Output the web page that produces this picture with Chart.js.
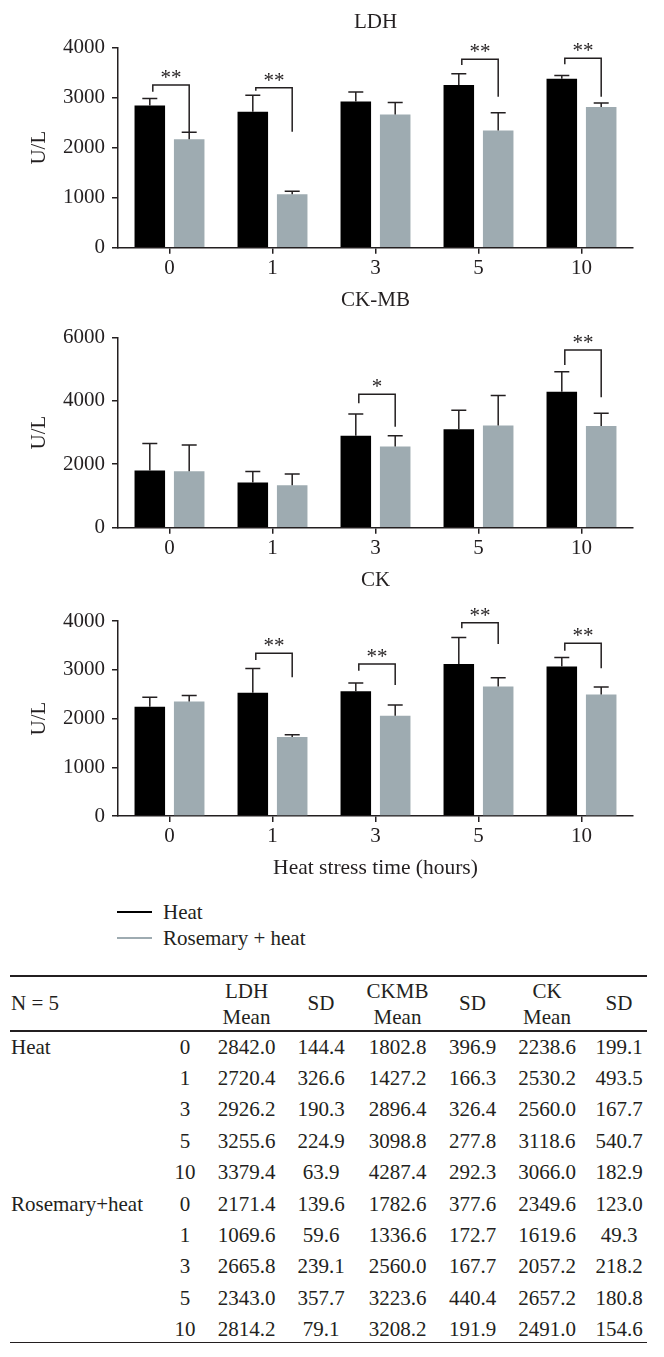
<!DOCTYPE html>
<html>
<head>
<meta charset="utf-8">
<script src="https://cdn.jsdelivr.net/npm/chart.js@4.4.0/dist/chart.umd.min.js"></script>
<style>
  html, body { margin: 0; padding: 0; background: #fff; }
  body { width: 664px; height: 1357px; position: relative; overflow: hidden;
         font-family: "Liberation Serif", "DejaVu Serif", serif; color: #231f20; }
  canvas { position: absolute; left: 0; }
  .t { position: absolute; font-size: 21px; line-height: 24px; white-space: nowrap; }
  .c { text-align: center; width: 120px; }
  .rule { position: absolute; left: 10px; width: 637px; background: #231f20; }
  .key { position: absolute; left: 117px; height: 24px; font-size: 21px; line-height: 24px; }
  .key span { position: absolute; left: 0; top: 11px; width: 35px; height: 2px; }
  .key b { position: absolute; left: 46px; top: 0; font-weight: normal; white-space: nowrap; }
</style>
</head>
<body>
<canvas id="ldh" width="664" height="280" style="top:0px"></canvas>
<canvas id="ckmb" width="664" height="280" style="top:280px"></canvas>
<canvas id="ck" width="664" height="340" style="top:560px"></canvas>
<div id="legend"></div>
<div id="table"></div>
<script>
const hours = ["0", "1", "3", "5", "10"];
const seriesNames = ["Heat", "Rosemary + heat"];
const tableGroups = ["Heat", "Rosemary+heat"];

const ldhMeanHeat = [2842.0, 2720.4, 2926.2, 3255.6, 3379.4];
const ldhSdHeat = [144.4, 326.6, 190.3, 224.9, 63.9];
const ckmbMeanHeat = [1802.8, 1427.2, 2896.4, 3098.8, 4287.4];
const ckmbSdHeat = [396.9, 166.3, 326.4, 277.8, 292.3];
const ckMeanHeat = [2238.6, 2530.2, 2560.0, 3118.6, 3066.0];
const ckSdHeat = [199.1, 493.5, 167.7, 540.7, 182.9];

const ldhMeanRos = [2171.4, 1069.6, 2665.8, 2343.0, 2814.2];
const ldhSdRos = [139.6, 59.6, 239.1, 357.7, 79.1];
const ckmbMeanRos = [1782.6, 1336.6, 2560.0, 3223.6, 3208.2];
const ckmbSdRos = [377.6, 172.7, 167.7, 440.4, 191.9];
const ckMeanRos = [2349.6, 1619.6, 2057.2, 2657.2, 2491.0];
const ckSdRos = [123.0, 49.3, 218.2, 180.8, 154.6];

// the CK-MB whiskers in the figure are longer than the tabulated SD
const ckmbWhiskerHeat = [850, 340, 690, 600, 630];
const ckmbWhiskerRos = [820, 355, 340, 945, 395];

// brackets: [hour index, bracket level, heat leg end, rosemary leg end, label] in U/L
const ldhSig = [[0, 3254, 3120, 2314, "**"], [1, 3200, 3140, 2320, "**"],
                [3, 3768, 3654, 3020, "**"], [4, 3788, 3668, 3020, "**"]];
const ckmbSig = [[2, 4205, 3921, 3184, "*"], [4, 5601, 5128, 4110, "**"]];
const ckSig = [[1, 3337, 3200, 2845, "**"], [2, 3118, 2980, 2687, "**"],
               [3, 3965, 3850, 3528, "**"], [4, 3542, 3390, 3029, "**"]];

const ink = "#231f20";
const heatColor = "#000000";
const rosColor = "#9eabb1";
const serif = "'Liberation Serif', 'DejaVu Serif', serif";

const extras = {
  id: "extras",
  afterDatasetsDraw(chart, args, opts) {
    const { ctx, chartArea } = chart;
    const y = chart.scales.y;
    ctx.save();
    ctx.strokeStyle = ink;
    ctx.lineWidth = 1.5;
    chart.data.datasets.forEach((ds, di) => {
      const meta = chart.getDatasetMeta(di);
      meta.data.forEach((bar, i) => {
        const top = y.getPixelForValue(ds.data[i] + ds.err[i]);
        ctx.beginPath();
        ctx.moveTo(bar.x, bar.y);
        ctx.lineTo(bar.x, top);
        ctx.moveTo(bar.x - 7.5, top);
        ctx.lineTo(bar.x + 7.5, top);
        ctx.stroke();
      });
    });

    const heatBars = chart.getDatasetMeta(0).data;
    const rosBars = chart.getDatasetMeta(1).data;
    ctx.fillStyle = ink;
    ctx.font = "21px " + serif;
    ctx.textAlign = "center";
    ctx.textBaseline = "alphabetic";
    (opts.sig || []).forEach(([i, level, leftEnd, rightEnd, label]) => {
      const lx = heatBars[i].x + 3;
      const rx = rosBars[i].x;
      const py = y.getPixelForValue(level);
      ctx.beginPath();
      ctx.moveTo(lx, y.getPixelForValue(leftEnd));
      ctx.lineTo(lx, py);
      ctx.lineTo(rx, py);
      ctx.lineTo(rx, y.getPixelForValue(rightEnd));
      ctx.stroke();
      ctx.fillText(label, (lx + rx) / 2, py - 1);
    });

    ctx.textBaseline = "middle";
    ctx.fillText(opts.title, (chartArea.left + chartArea.right) / 2, opts.titleY);
    ctx.restore();
  }
};

function panel(id, cfg) {
  const tickFont = { family: serif, size: 21 };
  const x = {
    ticks: { padding: 2, color: ink, font: tickFont },
    grid: { offset: false, drawOnChartArea: false, tickLength: 6, color: ink, lineWidth: 1.5 },
    border: { color: ink, width: 1.5 },
    afterFit: (s) => { s.height = cfg.xHeight; }
  };
  if (cfg.xTitle) {
    x.title = { display: true, text: cfg.xTitle, color: ink,
                font: { family: serif, size: 21.5 }, padding: { top: 0, bottom: 19 } };
  }
  return new Chart(document.getElementById(id), {
    type: "bar",
    data: {
      labels: hours,
      datasets: [
        { label: seriesNames[0], data: cfg.heat, err: cfg.heatErr, backgroundColor: heatColor,
          borderWidth: 0, categoryPercentage: 0.765, barPercentage: 0.775 },
        { label: seriesNames[1], data: cfg.ros, err: cfg.rosErr, backgroundColor: rosColor,
          borderWidth: 0, categoryPercentage: 0.765, barPercentage: 0.775 }
      ]
    },
    options: {
      responsive: false,
      animation: false,
      layout: { autoPadding: false, padding: { left: 0, right: 31, top: cfg.top, bottom: 0 } },
      plugins: {
        legend: { display: false },
        tooltip: { enabled: false },
        extras: { sig: cfg.sig, title: cfg.title, titleY: cfg.titleY }
      },
      scales: {
        x,
        y: {
          min: 0,
          max: cfg.max,
          ticks: { stepSize: cfg.step, padding: 7, color: ink, font: tickFont,
                   callback: (v) => String(v) },
          grid: { drawOnChartArea: false, tickLength: 6, color: ink, lineWidth: 1.5 },
          border: { color: ink, width: 1.5 },
          title: { display: true, text: "U/L", color: ink, font: { family: serif, size: 21 },
                   padding: { top: 27, bottom: 0 } },
          afterFit: (s) => { s.width = 118; }
        }
      }
    },
    plugins: [extras]
  });
}

panel("ldh", { title: "LDH", titleY: 22, top: 47.7, xHeight: 32.3, max: 4000, step: 1000,
  heat: ldhMeanHeat, heatErr: ldhSdHeat, ros: ldhMeanRos, rosErr: ldhSdRos, sig: ldhSig });
panel("ckmb", { title: "CK-MB", titleY: 20.7, top: 57.3, xHeight: 32.3, max: 6000, step: 2000,
  heat: ckmbMeanHeat, heatErr: ckmbWhiskerHeat, ros: ckmbMeanRos, rosErr: ckmbWhiskerRos, sig: ckmbSig });
panel("ck", { title: "CK", titleY: 20.7, top: 61, xHeight: 84, max: 4000, step: 1000,
  heat: ckMeanHeat, heatErr: ckSdHeat, ros: ckMeanRos, rosErr: ckSdRos, sig: ckSig,
  xTitle: "Heat stress time (hours)" });

// legend
const legend = document.getElementById("legend");
[heatColor, rosColor].forEach((color, k) => {
  const row = document.createElement("div");
  row.className = "key";
  row.style.top = (900 + k * 26) + "px";
  row.innerHTML = `<span style="background:${color}"></span><b>${seriesNames[k]}</b>`;
  legend.appendChild(row);
});

// table
const table = document.getElementById("table");
function cell(text, cx, cy, left) {
  const d = document.createElement("div");
  d.className = left ? "t" : "t c";
  d.textContent = text;
  d.style.left = (left ? cx : cx - 60) + "px";
  d.style.top = (cy - 12) + "px";
  table.appendChild(d);
}
function rule(y, h) {
  const d = document.createElement("div");
  d.className = "rule";
  d.style.top = y + "px";
  d.style.height = h + "px";
  table.appendChild(d);
}
const colX = [185, 246.5, 321, 397.5, 472.5, 547, 619];
rule(975, 2);
rule(1030, 2);
rule(1342, 1);
cell("N = 5", 11, 1003, true);
[["LDH", "Mean"], ["SD"], ["CKMB", "Mean"], ["SD"], ["CK", "Mean"], ["SD"]].forEach((h, j) => {
  if (h.length === 2) {
    cell(h[0], colX[j + 1], 990.7);
    cell(h[1], colX[j + 1], 1017.3);
  } else {
    cell(h[0], colX[j + 1], 1003);
  }
});
const groups = [
  [ldhMeanHeat, ldhSdHeat, ckmbMeanHeat, ckmbSdHeat, ckMeanHeat, ckSdHeat],
  [ldhMeanRos, ldhSdRos, ckmbMeanRos, ckmbSdRos, ckMeanRos, ckSdRos]
];
groups.forEach((cols, g) => {
  hours.forEach((h, i) => {
    const cy = 1046.7 + (g * hours.length + i) * 31.37;
    if (i === 0) cell(tableGroups[g], 11, cy, true);
    cell(h, colX[0], cy);
    cols.forEach((arr, j) => cell(arr[i].toFixed(1), colX[j + 1], cy));
  });
});
</script>
</body>
</html>
